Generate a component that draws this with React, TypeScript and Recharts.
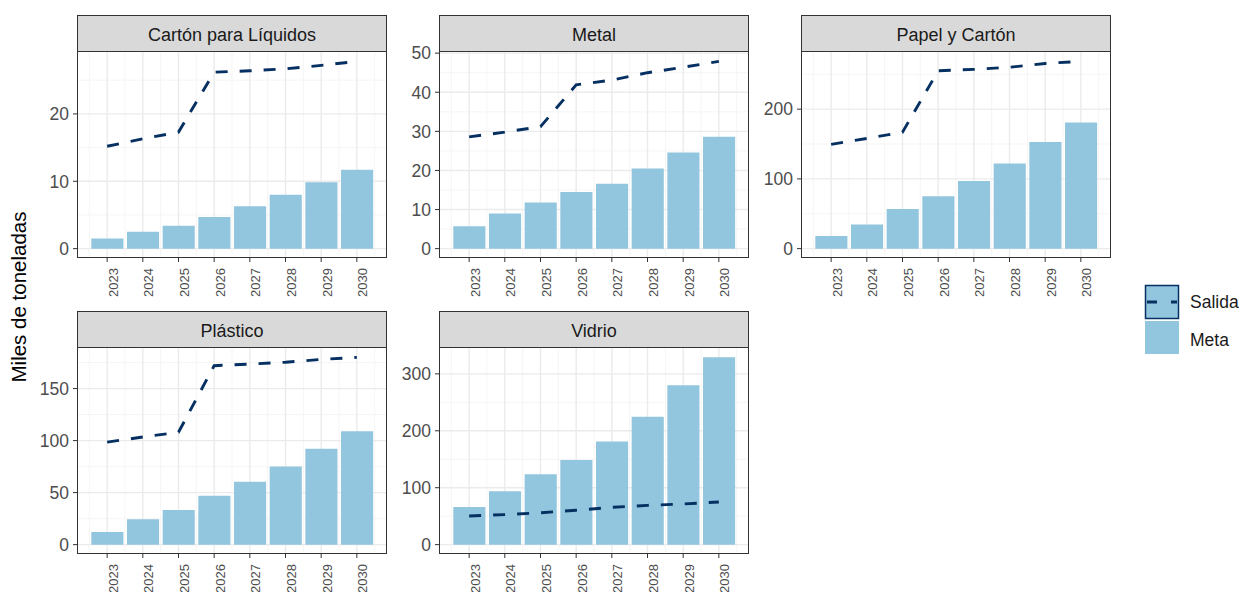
import React from "react";
import { ComposedChart, Bar, Line, XAxis, YAxis, CartesianGrid } from "recharts";

const years = [2023, 2024, 2025, 2026, 2027, 2028, 2029, 2030];

const metaCarton = [1.5, 2.5, 3.4, 4.7, 6.3, 8.0, 9.85, 11.7];
const salidaCarton = [15.2, 16.3, 17.3, 26.2, 26.4, 26.7, 27.2, 27.8];

const metaMetal = [5.7, 9.0, 11.8, 14.5, 16.6, 20.5, 24.6, 28.6];
const salidaMetal = [28.6, 29.8, 31.2, 41.9, 43.1, 45.0, 46.4, 47.9];

const metaPapel = [18, 34.5, 57, 75, 97, 122, 153, 181];
const salidaPapel = [149.5, 158, 167, 255, 257, 260, 265.5, 268.5];

const metaPlastico = [12.2, 24.5, 33.4, 46.9, 60.4, 75.1, 92.2, 108.9];
const salidaPlastico = [98.5, 103.5, 108, 172, 173.5, 175.3, 178, 180];

const metaVidrio = [66, 93.7, 123.5, 148.6, 181.4, 224.6, 280, 329];
const salidaVidrio = [50.4, 52.8, 56, 60.5, 65.5, 69, 71.5, 75];

const ticksCarton = [0, 10, 20];
const ticksMetal = [0, 10, 20, 30, 40, 50];
const ticksPapel = [0, 100, 200];
const ticksPlastico = [0, 50, 100, 150];
const ticksVidrio = [0, 100, 200, 300];

const titles = ["Cartón para Líquidos", "Metal", "Papel y Cartón", "Plástico", "Vidrio"];
const legendLabels = ["Salida", "Meta"];
const yTitle = "Miles de toneladas";

const BAR = "#92C5DE";
const LINE = "#053061";
const FONT = "'Liberation Sans', Arial, sans-serif";

const PANEL_W = 310;
const STRIP_H = 37;
const PLOT_H = 206;
const YAX_W = 70;
const XAX_H = 40;
const TOP_PAD = 14;

const XTick = (props: any) => {
  const { x, y, payload } = props;
  return (
    <text
      x={x}
      y={y + 4}
      transform={`rotate(-90 ${x} ${y + 4})`}
      textAnchor="end"
      dy="0.8em"
      fill="#4D4D4D"
      fontSize={13}
      fontFamily={FONT}
    >
      {payload.value}
    </text>
  );
};

const YTick = (props: any) => {
  const { x, y, payload } = props;
  return (
    <text x={x - 2} y={y} dy="0.36em" textAnchor="end" fill="#4D4D4D" fontSize={17.5} fontFamily={FONT}>
      {payload.value}
    </text>
  );
};

function Panel({ title, meta, salida, ticks, left, top }: any) {
  const data = years.map((yr, i) => ({ year: yr, meta: meta[i], salida: salida[i] }));
  const maxV = Math.max(...meta, ...salida);
  const yDomain = [-0.05 * maxV, 1.05 * maxV];
  const xLo = years[0] - 0.45;
  const xHi = years[years.length - 1] + 0.45;
  const xr = xHi - xLo;
  const xDomain = [xLo - 0.05 * xr, xHi + 0.05 * xr];
  const step = ticks[1] - ticks[0];
  const minorY: number[] = [];
  for (let v = ticks[0] - step / 2; v <= yDomain[1]; v += step) if (v >= yDomain[0]) minorY.push(v);
  const minorX = years.map((y) => y - 0.5).concat([years[years.length - 1] + 0.5]);
  const band = PANEL_W / (xDomain[1] - xDomain[0]);

  return (
    <>
      <div
        style={{
          position: "absolute",
          left,
          top,
          width: PANEL_W,
          height: STRIP_H,
          background: "#D9D9D9",
          boxSizing: "border-box",
          display: "flex",
          alignItems: "center",
          justifyContent: "center",
          paddingTop: 3,
          fontFamily: FONT,
          fontSize: 18,
          color: "#1A1A1A",
        }}
      >
        {title}
      </div>
      <div style={{ position: "absolute", left: left - YAX_W, top: top + STRIP_H - TOP_PAD }}>
        <ComposedChart
          width={YAX_W + PANEL_W}
          height={PLOT_H + XAX_H + TOP_PAD}
          data={data}
          margin={{ top: TOP_PAD, right: 0, bottom: 0, left: 0 }}
        >
          <CartesianGrid
            stroke="#F2F2F2"
            strokeWidth={0.8}
            horizontalValues={minorY}
            verticalValues={minorX}
          />
          <CartesianGrid stroke="#EBEBEB" strokeWidth={1.4} horizontalValues={ticks} verticalValues={years} />
          <XAxis
            dataKey="year"
            type="number"
            domain={xDomain}
            allowDataOverflow
            ticks={years}
            interval={0}
            height={XAX_H}
            axisLine={false}
            tickLine={{ stroke: "#333333", strokeWidth: 1 }}
            tickSize={4}
            tick={<XTick />}
          />
          <YAxis
            type="number"
            domain={yDomain}
            allowDataOverflow
            ticks={ticks}
            interval={0}
            width={YAX_W}
            axisLine={false}
            tickLine={{ stroke: "#333333", strokeWidth: 1 }}
            tickSize={4}
            tick={<YTick />}
          />
          <Bar dataKey="meta" fill={BAR} barSize={band * 0.9} isAnimationActive={false} />
          <Line
            dataKey="salida"
            type="linear"
            stroke={LINE}
            strokeWidth={2.9}
            strokeDasharray="12 12"
            dot={false}
            activeDot={false}
            isAnimationActive={false}
          />
        </ComposedChart>
      </div>
      <div
        style={{
          position: "absolute",
          left,
          top,
          width: PANEL_W,
          height: STRIP_H + PLOT_H,
          boxSizing: "border-box",
          border: "1px solid #333333",
          pointerEvents: "none",
        }}
      />
      <div
        style={{
          position: "absolute",
          left,
          top: top + STRIP_H - 1,
          width: PANEL_W,
          height: 1,
          background: "#333333",
        }}
      />
    </>
  );
}

export default function App() {
  const cols = [77, 439, 801];
  const rows = [15, 311];
  const panels = [
    { title: titles[0], meta: metaCarton, salida: salidaCarton, ticks: ticksCarton, left: cols[0], top: rows[0] },
    { title: titles[1], meta: metaMetal, salida: salidaMetal, ticks: ticksMetal, left: cols[1], top: rows[0] },
    { title: titles[2], meta: metaPapel, salida: salidaPapel, ticks: ticksPapel, left: cols[2], top: rows[0] },
    { title: titles[3], meta: metaPlastico, salida: salidaPlastico, ticks: ticksPlastico, left: cols[0], top: rows[1] },
    { title: titles[4], meta: metaVidrio, salida: salidaVidrio, ticks: ticksVidrio, left: cols[1], top: rows[1] },
  ];
  return (
    <div
      style={{
        position: "absolute",
        left: 0,
        top: 0,
        width: 1242,
        height: 592,
        background: "#FFFFFF",
        overflow: "hidden",
        fontFamily: FONT,
      }}
    >
      {panels.map((p) => (
        <Panel key={p.title} {...p} />
      ))}
      <svg style={{ position: "absolute", left: 0, top: 0 }} width={40} height={592}>
        <text
          x={19}
          y={297}
          transform="rotate(-90 19 297)"
          textAnchor="middle"
          dy="0.36em"
          fontSize={20.5}
          fontFamily={FONT}
          fill="#000000"
        >
          {yTitle}
        </text>
      </svg>
      <svg style={{ position: "absolute", left: 1130, top: 270 }} width={112} height={100}>
        <rect x={15.5} y={15.5} width={33} height={33} fill={BAR} stroke={LINE} strokeWidth={1.5} />
        <line x1={17} y1={32} x2={47} y2={32} stroke={LINE} strokeWidth={2.9} strokeDasharray="10 14" />
        <rect x={15} y={51} width={34} height={33} fill={BAR} />
        <text x={60} y={32} dy="0.36em" fontSize={17.5} fontFamily={FONT} fill="#1A1A1A">
          {legendLabels[0]}
        </text>
        <text x={60} y={70} dy="0.36em" fontSize={17.5} fontFamily={FONT} fill="#1A1A1A">
          {legendLabels[1]}
        </text>
      </svg>
    </div>
  );
}
